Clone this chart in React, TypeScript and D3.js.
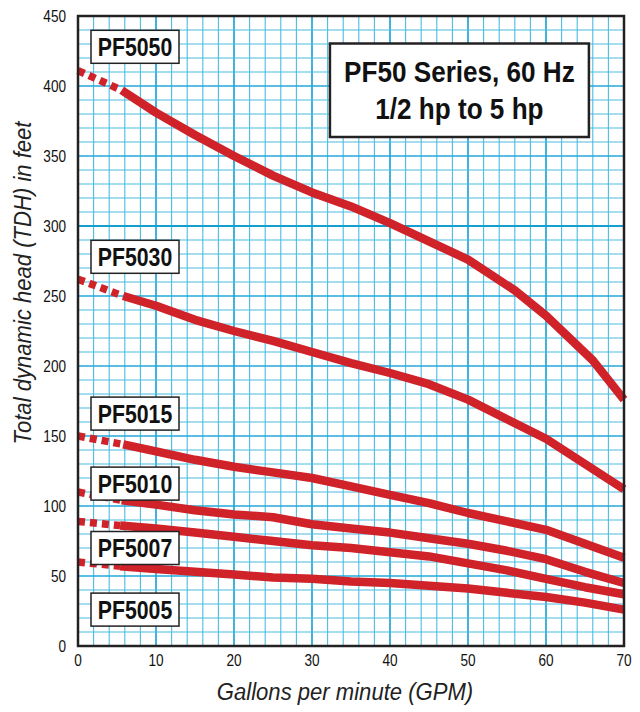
import React from "react";
import * as d3 from "d3";

const GPM_TICKS = [0, 10, 20, 30, 40, 50, 60, 70];
const HEAD_TICKS = [0, 50, 100, 150, 200, 250, 300, 350, 400, 450];

const SERIES_NAMES = ["PF5050", "PF5030", "PF5015", "PF5010", "PF5007", "PF5005"];

// first point = start of the dashed (extrapolated) part at 0 GPM
const pf5050: [number, number][] = [[0, 411], [5.6, 397], [10, 381], [15, 365], [20, 350], [25, 336], [30, 324], [35, 314], [40, 302], [45, 289], [50, 276], [56, 254], [60, 236], [66, 204], [70, 176]];
const pf5030: [number, number][] = [[0, 262], [5.8, 250], [10, 243], [15, 233], [20, 225], [25, 218], [30, 210], [35, 202], [40, 195], [45, 187], [50, 176], [55, 162], [60, 148], [65, 130], [70, 112]];
const pf5015: [number, number][] = [[0, 150], [5.8, 144], [10, 139], [15, 133], [20, 128], [25, 124], [30, 120], [35, 114], [40, 108], [45, 102], [50, 95], [55, 89], [60, 83], [65, 73], [70, 63]];
const pf5010: [number, number][] = [[0, 110], [5.6, 104], [10, 101], [15, 97], [20, 94], [25, 92], [30, 87], [35, 84], [40, 81], [45, 77], [50, 73], [55, 68], [60, 62], [65, 53], [70, 45]];
const pf5007: [number, number][] = [[0, 89], [5.4, 86], [10, 84], [15, 81], [20, 78], [25, 75], [30, 72], [35, 70], [40, 67], [45, 64], [50, 59], [55, 54], [60, 48], [65, 42], [70, 37]];
const pf5005: [number, number][] = [[0, 60], [5.4, 57], [10, 55], [15, 53], [20, 51], [25, 49], [30, 48], [35, 46], [40, 45], [45, 43], [50, 41], [55, 38], [60, 35], [65, 31], [70, 26]];

const SERIES = [pf5050, pf5030, pf5015, pf5010, pf5007, pf5005];
// head value at the centre of each name box
const LABEL_HEADS = [428, 278, 166, 116, 70, 26];

const TITLE_LINES = ["PF50 Series, 60 Hz", "1/2 hp to 5 hp"];
const X_TITLE = "Gallons per minute (GPM)";
const Y_TITLE = "Total dynamic head (TDH) in feet";

const W = 640;
const H = 712;
const M = { left: 78, right: 624, top: 16, bottom: 646 };
const RED = "#cf2229";
const FONT = "'Liberation Sans', Arial, sans-serif";
const SX = 0.85; // horizontal condensing factor for the narrow typeface

function Narrow(props: {
  x: number;
  y: number;
  anchor?: "start" | "middle" | "end";
  size: number;
  weight?: string;
  italic?: boolean;
  fill?: string;
  sx?: number;
  children: React.ReactNode;
}) {
  const { x, y, anchor = "start", size, weight = "normal", italic = false, fill = "#111", sx = SX, children } = props;
  return (
    <text
      transform={`translate(${x},${y}) scale(${sx},1)`}
      textAnchor={anchor}
      fontFamily={FONT}
      fontWeight={weight}
      fontStyle={italic ? "italic" : "normal"}
      fontSize={size}
      fill={fill}
    >
      {children}
    </text>
  );
}

export default function App() {
  const x = d3.scaleLinear().domain([0, 70]).range([M.left, M.right]);
  const y = d3.scaleLinear().domain([0, 450]).range([M.bottom, M.top]);
  const line = d3
    .line<[number, number]>()
    .x((d) => x(d[0]))
    .y((d) => y(d[1]));

  const vLines = d3.range(0, 71, 2);
  const hLines = d3.range(0, 451, 10);
  const tx0 = x(32.3);
  const tx1 = x(65.5);

  return (
    <svg width={W} height={H} style={{ position: "absolute", left: 0, top: 0, background: "#fff" }}>
      <rect x={0} y={0} width={W} height={H} fill="#fff" />
      {/* grid */}
      <g>
        {vLines.map((g) => (
          <line
            key={"v" + g}
            x1={x(g)}
            x2={x(g)}
            y1={M.top}
            y2={M.bottom}
            stroke={g % 10 === 0 ? "#12a0d3" : "#4cbbe2"}
            strokeWidth={g % 10 === 0 ? 1.6 : 1.1}
          />
        ))}
        {hLines.map((h) => (
          <line
            key={"h" + h}
            x1={M.left}
            x2={M.right}
            y1={y(h)}
            y2={y(h)}
            stroke={h === 300 ? "#12a0d3" : h % 50 === 0 ? "#22a8d8" : "#4cbbe2"}
            strokeWidth={h === 300 ? 2.2 : h % 50 === 0 ? 1.5 : 1.1}
          />
        ))}
      </g>
      {/* curves */}
      <g>
        {SERIES.map((s, i) => (
          <g key={"s" + i}>
            <path d={line(s.slice(0, 2)) || ""} fill="none" stroke={RED} strokeWidth={7.5} strokeDasharray="7,5" />
            <path d={line(s.slice(1)) || ""} fill="none" stroke={RED} strokeWidth={8.5} strokeLinejoin="round" />
          </g>
        ))}
      </g>
      {/* name boxes */}
      <g>
        {SERIES_NAMES.map((n, i) => {
          const cy = y(LABEL_HEADS[i]);
          return (
            <g key={n}>
              <rect x={91} y={cy - 16.5} width={88} height={33} fill="#fff" stroke="#222" strokeWidth={1.5} />
              <Narrow x={135} y={cy + 9} anchor="middle" size={25} weight="bold">
                {n}
              </Narrow>
            </g>
          );
        })}
      </g>
      {/* title box */}
      <g>
        <rect x={tx0} y={43.5} width={tx1 - tx0} height={93.5} fill="#fff" stroke="#222" strokeWidth={2.5} />
        {TITLE_LINES.map((t, i) => (
          <Narrow key={t} x={(tx0 + tx1) / 2} y={82 + i * 37} anchor="middle" size={30} weight="bold" sx={0.87}>
            {t}
          </Narrow>
        ))}
      </g>
      {/* frame */}
      <rect x={M.left} y={M.top} width={M.right - M.left} height={M.bottom - M.top} fill="none" stroke="#222" strokeWidth={2.5} />
      {/* ticks */}
      <g>
        {HEAD_TICKS.map((t) => (
          <Narrow key={"yt" + t} x={66} y={y(t) + 5.5} anchor="end" size={16}>
            {t}
          </Narrow>
        ))}
        {GPM_TICKS.map((t) => (
          <Narrow key={"xt" + t} x={x(t)} y={666} anchor="middle" size={16}>
            {t}
          </Narrow>
        ))}
      </g>
      <Narrow x={345} y={700} anchor="middle" size={24} italic fill="#222" sx={0.92}>
        {X_TITLE}
      </Narrow>
      <text
        transform={`translate(31, 283) rotate(-90) scale(0.92,1)`}
        textAnchor="middle"
        fontFamily={FONT}
        fontStyle="italic"
        fontSize={24}
        fill="#222"
      >
        {Y_TITLE}
      </text>
    </svg>
  );
}
